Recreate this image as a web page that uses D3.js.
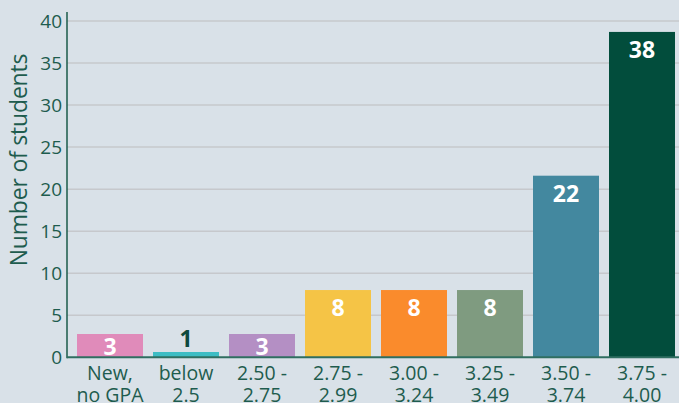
<!DOCTYPE html>
<html>
<head>
<meta charset="utf-8">
<script src="https://cdn.jsdelivr.net/npm/d3@7"></script>
<style>
  html, body { margin: 0; padding: 0; background: #d9e1e8; }
  svg { display: block; font-family: "Open Sans", sans-serif; }
</style>
</head>
<body>
<div id="chart"></div>
<script>
// Data
const categories = [["New,", "no GPA"], ["below", "2.5"], ["2.50 -", "2.75"], ["2.75 -", "2.99"],
  ["3.00 -", "3.24"], ["3.25 -", "3.49"], ["3.50 -", "3.74"], ["3.75 -", "4.00"]];
const counts = [3, 1, 3, 8, 8, 8, 22, 38];
// bar heights as drawn in the picture
const heights = [2.77, 0.63, 2.77, 8, 8, 8, 21.6, 38.7];
const colors = ["#e08bba", "#3dbdc4", "#b48fc4", "#f5c446", "#fa8b2c", "#7f9b80", "#43889f", "#024d3c"];
const yTicks = [0, 5, 10, 15, 20, 25, 30, 35, 40];

const width = 679, height = 403;
const textColor = "#1e5c4e";

const svg = d3.select("#chart").append("svg")
  .attr("width", width).attr("height", height);

const x = d3.scaleBand()
  .domain(d3.range(categories.length))
  .range([67, 685])
  .paddingInner(0.1316)
  .paddingOuter(0.1316);

const y = d3.scaleLinear().domain([0, 40]).range([357.3, 21]);

// Gridlines
svg.append("g")
  .selectAll("line")
  .data(yTicks.filter((d) => d > 0))
  .join("line")
  .attr("x1", 67).attr("x2", width)
  .attr("y1", (d) => y(d)).attr("y2", (d) => y(d))
  .attr("stroke", "#c6c8cc")
  .attr("stroke-width", 1.5);

// Bars
svg.append("g")
  .selectAll("rect")
  .data(heights)
  .join("rect")
  .attr("x", (d, i) => x(i))
  .attr("width", x.bandwidth())
  .attr("y", (d) => y(d))
  .attr("height", (d) => y(0) - y(d))
  .attr("fill", (d, i) => colors[i]);

// Value labels (inside the bar, or above it when the bar is too short)
svg.append("g")
  .selectAll("text")
  .data(heights)
  .join("text")
  .attr("x", (d, i) => x(i) + x.bandwidth() / 2)
  .attr("y", (d) => {
    const top = y(d);
    if (y(0) - top < 12) return top - 5;
    return Math.min(top + 26, y(0) - 2);
  })
  .attr("text-anchor", "middle")
  .attr("font-size", "23px")
  .attr("font-weight", 700)
  .attr("fill", (d) => (y(0) - y(d) < 12 ? "#0e4a3d" : "#ffffff"))
  .text((d, i) => counts[i]);

// Y axis
const yAxis = svg.append("g")
  .attr("transform", "translate(67,0)")
  .call(d3.axisLeft(y).tickValues(yTicks).tickSize(0).tickPadding(5));
yAxis.select(".domain").remove();
yAxis.selectAll("text")
  .attr("font-size", "19px")
  .attr("font-family", "Open Sans, sans-serif")
  .attr("fill", textColor);

svg.append("line")
  .attr("x1", 67).attr("x2", 67)
  .attr("y1", 12).attr("y2", y(0) + 1)
  .attr("stroke", "#1a5a4a")
  .attr("stroke-width", 1.5);

// X axis line
svg.append("line")
  .attr("x1", 67).attr("x2", width)
  .attr("y1", y(0)).attr("y2", y(0))
  .attr("stroke", "#2f6e60")
  .attr("stroke-width", 2);

// X labels, two lines each
const xLab = svg.append("g")
  .selectAll("text")
  .data(categories)
  .join("text")
  .attr("x", (d, i) => x(i) + x.bandwidth() / 2)
  .attr("y", 380)
  .attr("text-anchor", "middle")
  .attr("font-size", "19.5px")
  .attr("fill", textColor);
xLab.append("tspan").text((d) => d[0]);
xLab.append("tspan")
  .attr("x", (d, i) => x(i) + x.bandwidth() / 2)
  .attr("dy", 21.5)
  .text((d) => d[1]);

// Y axis title
svg.append("text")
  .attr("transform", "translate(27,160) rotate(-90)")
  .attr("text-anchor", "middle")
  .attr("font-size", "23px")
  .attr("letter-spacing", "-0.2px")
  .attr("fill", textColor)
  .text("Number of students");
</script>
</body>
</html>
